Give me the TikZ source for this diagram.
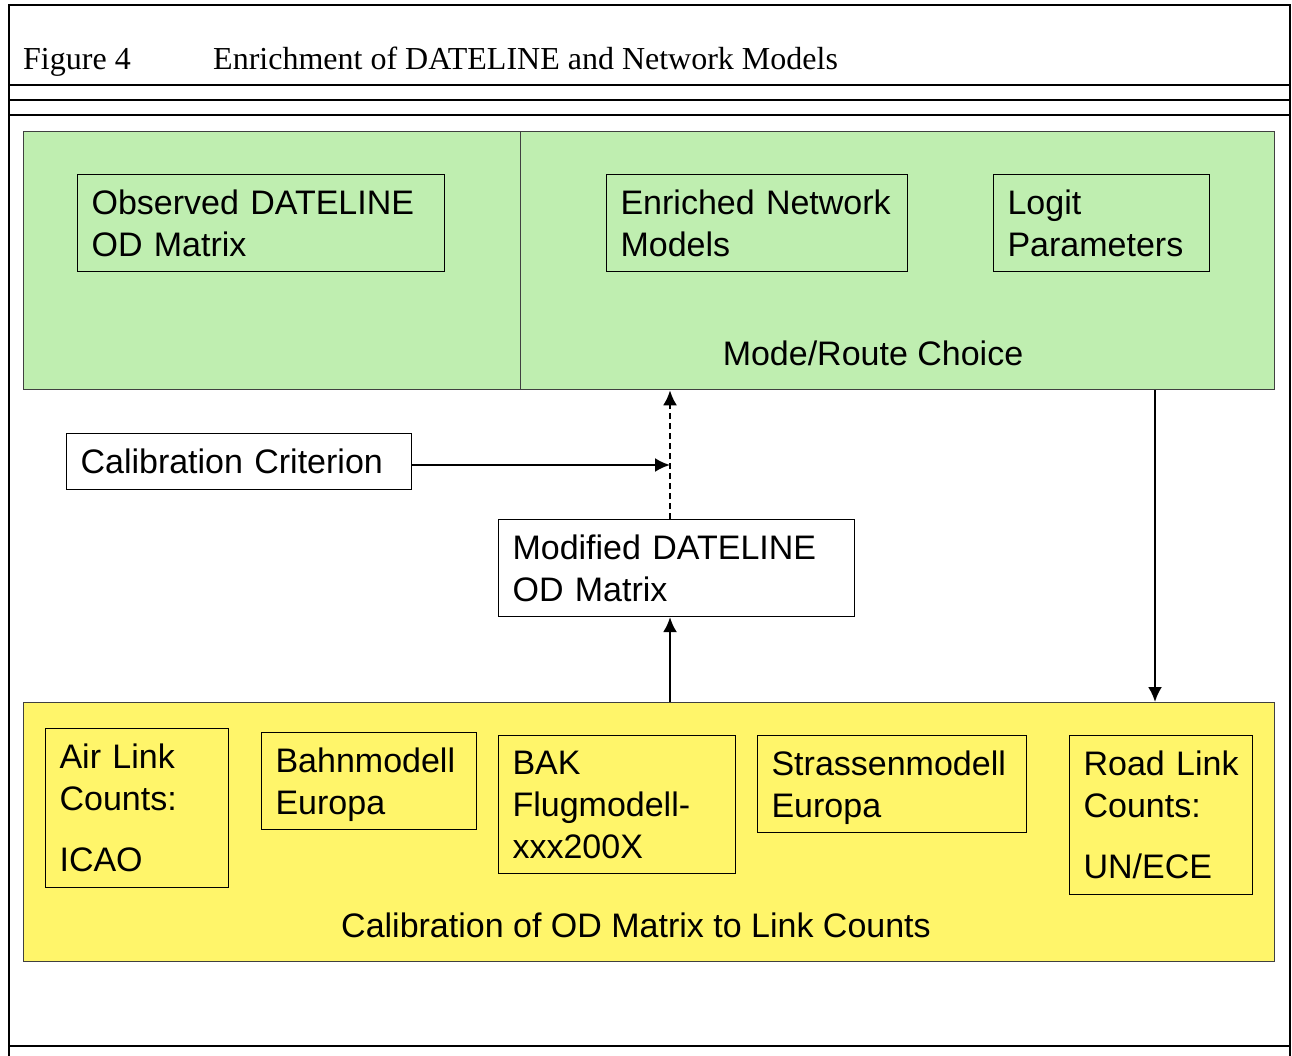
\documentclass[tikz,border=0pt]{standalone}
\usepackage{fontspec}
\setmainfont{Liberation Serif}
\setsansfont{Liberation Sans}
\usetikzlibrary{arrows.meta}
\definecolor{choicegreen}{RGB}{191,238,176}
\definecolor{calibyellow}{RGB}{255,245,106}

\begin{document}
\begin{tikzpicture}[x=1pt, y=-1pt,
    frameline/.style={line width=2.4pt},
    panel/.style={draw=black!75, line width=1.3pt, anchor=north west, inner sep=0pt},
    item/.style={draw, line width=1.1pt, anchor=north west, align=left, inner xsep=14pt, inner ysep=0pt, font=\sffamily\fontsize{34}{42}\selectfont},
    caption/.style={anchor=base, inner sep=0pt, font=\sffamily\fontsize{34}{42}\selectfont},
    flow/.style={line width=2.3pt, -{Latex[length=15pt,width=14pt]}}]
    \useasboundingbox (0,0) rectangle (1292,1056);

    % table frame
    \draw[frameline] (9,1056) -- (9,5) -- (1290,5) -- (1290,1056);
    \draw[frameline] (9,85) -- (1290,85) (9,100) -- (1290,100) (9,115) -- (1290,115) (9,1046) -- (1290,1046);
    \node[anchor=base west, inner sep=0pt, font=\fontsize{32}{38}\selectfont] (fignum) at (23,70) {Figure 4};
    \node[anchor=base west, inner sep=0pt, font=\fontsize{32}{38}\selectfont] (figtitle) at (213,70) {Enrichment of DATELINE and Network Models};

    % green panels
    \node[panel, fill=choicegreen, minimum width=497pt, minimum height=258pt] (observedpanel) at (23,131) {};
    \node[panel, fill=choicegreen, minimum width=754pt, minimum height=258pt] (choice) at (520,131) {};
    \node[item, text width=339pt, minimum height=97pt] (observed) at (77,174) {Observed DATELINE\\OD Matrix};
    \node[item, text width=273pt, minimum height=97pt] (enriched) at (606,174) {Enriched Network\\Models};
    \node[item, text width=188pt, minimum height=97pt] (logit) at (993,174) {Logit\\Parameters};
    \node[caption] (choicelabel) at (873,365) {Mode/Route Choice};

    % middle
    \node[item, text width=317pt, minimum height=56pt] (criterion) at (66,433) {Calibration Criterion};
    \node[item, fill=white, text width=328pt, minimum height=97pt] (modified) at (498,519) {Modified DATELINE\\OD Matrix};

    % yellow panel
    \node[panel, fill=calibyellow, minimum width=1251pt, minimum height=259pt] (calibration) at (23,702) {};
    \node[item, text width=155pt, minimum height=159pt] (airlink) at (45,728) {Air Link\\Counts:\\[19pt]ICAO};
    \node[item, text width=187pt, minimum height=97pt] (bahn) at (261,732) {Bahnmodell\\\smash{Europa}};
    \node[item, text width=209pt, minimum height=138pt] (flug) at (498,735) {BAK\\Flugmodell-\\xxx200X};
    \node[item, text width=241pt, minimum height=97pt] (strasse) at (757,735) {Strassenmodell\\\smash{Europa}};
    \node[item, text width=155pt, minimum height=159pt] (roadlink) at (1069,735) {Road Link\\Counts:\\[19pt]UN/ECE};
    \node[caption] (calibrationlabel) at (636,937) {Calibration of OD Matrix to Link Counts};

    % connectors
    \coordinate (join) at (670,465);
    \coordinate (drop) at (1155,550);
    \draw[flow] (criterion.east |- join) -- (join);
    \draw[flow, dash pattern=on 6pt off 4pt] (modified.north -| join) -- (choice.south -| join);
    \draw[flow] (calibration.north -| join) -- (modified.south -| join);
    \draw[flow] (choice.south -| drop) -- (calibration.north -| drop);
\end{tikzpicture}
\end{document}
